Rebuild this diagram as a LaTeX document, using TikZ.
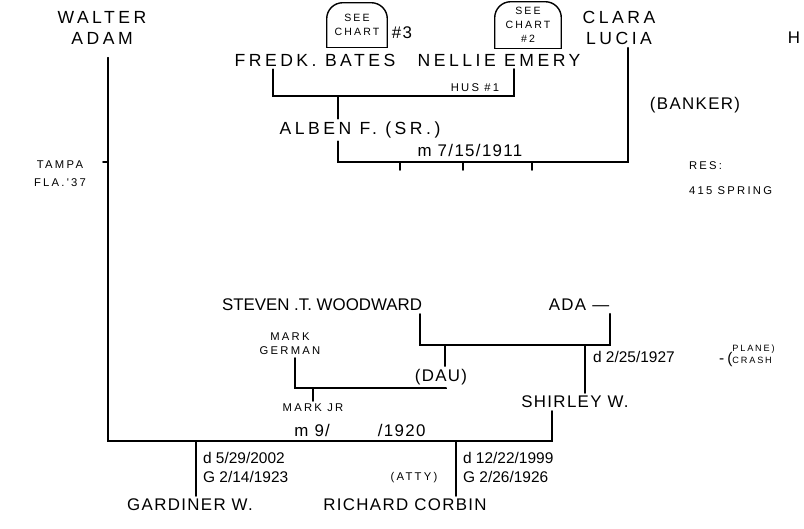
\documentclass[tikz,border=0pt]{standalone}
\usepackage{fontspec}
\setmainfont{Liberation Sans}
\newfontfamily\handfont{Liberation Sans}
\newfontfamily\handmid[LetterSpace=8]{Liberation Sans}
\newfontfamily\handwide[LetterSpace=20]{Liberation Sans}
\usetikzlibrary{
    positioning,
    calc
}

\begin{document}
\begin{tikzpicture}[
                x=0.025cm, y=-0.025cm,
                every node/.style={align=center, inner sep=2pt},
                rel/.style={line width=1.3pt, line cap=round},
                bigname/.style={font=\handwide\fontsize{12.5}{15}\selectfont},
                person/.style={font=\handmid\fontsize{12}{15}\selectfont},
                handnote/.style={font=\handwide\fontsize{8}{10}\selectfont},
                datenote/.style={font=\handfont\fontsize{11}{13.5}\selectfont, align=left},
                tomb/.style={font=\handwide\fontsize{7.5}{10}\selectfont, inner sep=0pt}
            ]

                \useasboundingbox (0,0) rectangle (804,528);

                % grandparents
                \node[bigname] (walter) at (102,28) {WALTER\\ADAM};
                \node[bigname] (clara) at (619,28) {CLARA\\LUCIA};
                \node[tomb, minimum width=1.5cm, minimum height=1.1cm] (chartA) at (357,25) {SEE\\CHART};
                \node[person] (numA) at (402,33) {\#3};
                \node[tomb, minimum width=1.65cm, minimum height=1.15cm] (chartB) at (528,25) {SEE\\CHART\\\#2};
                \node[bigname] (fredk) at (315,60) {FREDK. BATES};
                \node[bigname] (nellie) at (499,60) {NELLIE EMERY};
                \node[handnote] (hus) at (475,88) {HUS \#1};
                \node[bigname] (alben) at (360,130) {ALBEN F. (SR.)};
                \node[person] (wedA) at (470,150) {m 7/15/1911};
                \node[person] (banker) at (695,105) {(BANKER)};
                \node[handnote, align=left, anchor=west] (res) at (686,178) {RES:\\[8pt]415 SPRING};
                \node[handnote] (tampa) at (60,174) {TAMPA\\[3pt]FLA.'37};
                \node[person] (edge) at (794,38) {H};

                % woodward side
                \node[person, font=\handfont\fontsize{12}{15}\selectfont] (steven) at (322,305) {STEVEN .T. WOODWARD};
                \node[person] (ada) at (579,305) {ADA \textemdash};
                \node[handnote] (markg) at (290,344) {MARK\\GERMAN};
                \node[person] (dau) at (441,377) {(DAU)};
                \node[datenote, anchor=west] (death) at (590,357) {d 2/25/1927};
                \node[handnote, anchor=west] (crash) at (716,356)
                    {{\fontsize{11}{13}\selectfont -(}\fontsize{6.5}{7.5}\selectfont\shortstack[l]{PLANE)\\CRASH}};
                \node[handnote] (markjr) at (313,408) {MARK JR};
                \node[person] (shirley) at (575,402) {SHIRLEY W.};
                \node[person] (wedB) at (360,430) {m 9/\hspace{1.2cm}/1920};

                % children
                \node[datenote, anchor=west] (gdates) at (200,467) {d 5/29/2002\\G 2/14/1923};
                \node[datenote, anchor=west] (cdates) at (460,467) {d 12/22/1999\\G 2/26/1926};
                \node[handnote] (atty) at (414,478) {(ATTY)};
                \node[person] (gardiner) at (190,505) {GARDINER W.};
                \node[person] (corbin) at (405,505) {RICHARD CORBIN};

                % chart stones
                \foreach \t in {chartA,chartB} {
                    \draw[rel, line width=1pt] (\t.south west) -- (\t.south east);
                    \draw[rel, line width=1pt, rounded corners=0.4cm]
                        (\t.south west) -- (\t.north west) -- (\t.north east) -- (\t.south east);
                }

                % family lines
                \coordinate (wTick) at (108,162);
                \coordinate (wCorner) at (108,441);
                \coordinate (sCorner) at (552,441);
                \draw[rel, shorten <=0.25cm] (walter.south -| wCorner) -- (wCorner) -- (sCorner) -- (shirley.south -| sCorner);
                \draw[rel] (wTick) -- ++(-5,0);

                \coordinate (fCorner) at (273,96);
                \coordinate (nCorner) at (514,96);
                \draw[rel] (fredk.south -| fCorner) -- (fCorner) -- (nCorner) -- (nellie.south -| nCorner);
                \coordinate (aTop) at (338,96);
                \draw[rel] (aTop) -- (alben.north -| aTop);

                \coordinate (aCorner) at (338,162);
                \coordinate (cCorner) at (628,162);
                \draw[rel] (alben.south -| aCorner) -- (aCorner) -- (cCorner) -- (clara.south -| cCorner);
                \foreach \tx in {400,463,532}
                    \draw[rel] (\tx,162) -- ++(0,8);

                \coordinate (stCorner) at (420,345);
                \coordinate (adCorner) at (610,345);
                \draw[rel] (steven.south -| stCorner) -- (stCorner) -- (adCorner) -- (ada.south -| adCorner);
                \coordinate (dauTop) at (445,345);
                \draw[rel] (dauTop) -- (dau.north -| dauTop);

                \coordinate (mgCorner) at (295,388);
                \coordinate (dauCorner) at (446,388);
                \draw[rel] (markg.south -| mgCorner) -- (mgCorner) -- (dauCorner) -- (dau.south -| dauCorner);
                \coordinate (mjTop) at (313,388);
                \draw[rel] (mjTop) -- (markjr.north -| mjTop);
                \coordinate (shTop) at (585,345);
                \draw[rel] (shTop) -- (shirley.north -| shTop);

                \coordinate (gTop) at (196,441);
                \coordinate (rTop) at (456,441);
                \draw[rel] (gTop) -- (gardiner.north -| gTop);
                \draw[rel] (rTop) -- (corbin.north -| rTop);

            \end{tikzpicture}
\end{document}
